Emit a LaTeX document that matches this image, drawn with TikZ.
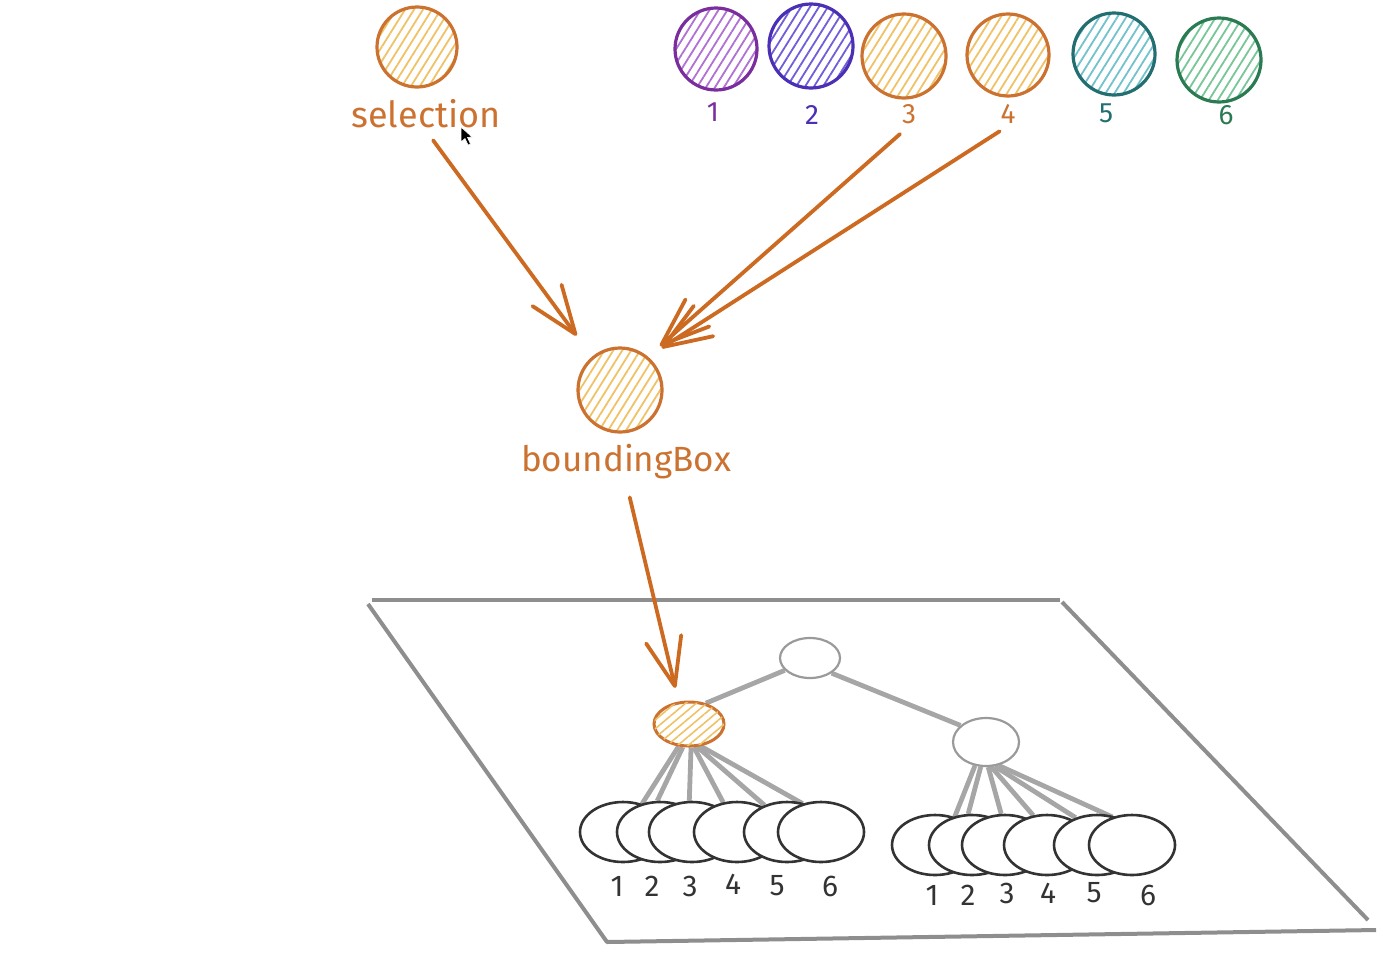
\documentclass[tikz,border=0pt]{standalone}
\usepackage{fontspec}
\setmainfont{Fira Sans}
\usetikzlibrary{shapes.geometric,patterns.meta,arrows.meta,backgrounds}
\definecolor{orS}{HTML}{CC7230}
\definecolor{orH}{HTML}{F0C266}
\definecolor{puS}{HTML}{7A2E9E}
\definecolor{puH}{HTML}{B070D4}
\definecolor{blS}{HTML}{4B2FB5}
\definecolor{blH}{HTML}{6E5ED8}
\definecolor{teS}{HTML}{226E70}
\definecolor{teH}{HTML}{72C2CC}
\definecolor{grS}{HTML}{2A7A52}
\definecolor{grH}{HTML}{78C698}
\definecolor{arrc}{HTML}{CD6A22}
\definecolor{leafc}{HTML}{333333}
\definecolor{inrc}{HTML}{9A9A9A}
\definecolor{edgec}{HTML}{A6A6A6}
\definecolor{framec}{HTML}{8E8E8E}
\tikzset{
  hc/.style n args={3}{circle, draw=#1, line width=1.6pt, minimum size=#3, inner sep=0pt,
    pattern={Lines[angle=58,distance=3.8pt,line width=0.9pt]}, pattern color=#2},
  numlab/.style={font=\fontsize{14}{16}\selectfont, text=#1, inner sep=1pt},
  biglab/.style={font=\fontsize{18}{21}\selectfont, text=orS, inner sep=1pt},
  leaflab/.style={font=\fontsize{15}{17}\selectfont, text=leafc, inner sep=1pt},
  leaf/.style={ellipse, draw=leafc, line width=1.3pt, fill=white, minimum width=43pt, minimum height=30pt, inner sep=0pt},
  inr/.style={ellipse, draw=inrc, line width=1.1pt, fill=white, inner sep=0pt},
  tedge/.style={draw=edgec, line width=2.4pt},
  frame/.style={draw=framec, line width=2pt, line join=round},
  arr/.style={draw=arrc, line width=1.9pt, line cap=round, -{Straight Barb[length=24pt,width=18pt,round]}},
}
\begin{document}
\begin{tikzpicture}[x=0.5pt,y=-0.5pt]
\useasboundingbox (0,0) rectangle (1400,959);
% top circles
\node[hc={orS}{orH}{40pt}] (sel) at (417,47) {};
\node[biglab] (sellab) at (426,114) {selection};
\node[hc={puS}{puH}{41pt}] (c1) at (716,49) {};
\node[hc={blS}{blH}{42pt}] (c2) at (811,46) {};
\node[hc={orS}{orH}{42pt}] (c3) at (904,56) {};
\node[hc={orS}{orH}{41pt}] (c4) at (1008,55) {};
\node[hc={teS}{teH}{41pt}] (c5) at (1114,54) {};
\node[hc={grS}{grH}{42pt}] (c6) at (1219,60) {};
\node[numlab=puS] (n1) at (713,112) {1};
\node[numlab=blS] (n2) at (812,115) {2};
\node[numlab=orS] (n3) at (909,114) {3};
\node[numlab=orS] (n4) at (1008,114) {4};
\node[numlab=teS] (n5) at (1106,113) {5};
\node[numlab=grS] (n6) at (1226,115) {6};
% bounding box node
\node[hc={orS}{orH}{42pt}] (bb) at (620,390) {};
\node[biglab, font=\fontsize{17.5}{21}\selectfont] (bblab) at (626,462) {boundingBox};
% tree
\node[inr, minimum width=30pt, minimum height=20pt] (root) at (810,658) {};
\node[ellipse, draw=orS, line width=1.5pt, fill=white, inner sep=0pt, minimum width=35pt, minimum height=22pt,
  postaction={pattern={Lines[angle=40,distance=3.4pt,line width=0.8pt]}, pattern color=orH}] (lc) at (689,724) {};
\node[inr, minimum width=33pt, minimum height=24pt] (rc) at (986,742) {};
% leaves
\foreach \i/\x in {1/623,2/660,3/692,4/737,5/787,6/821}{
  \node[leaf] (a\i) at (\x,832) {};
}
\foreach \i/\x in {1/935,2/972,3/1005,4/1047,5/1097,6/1132}{
  \node[leaf] (b\i) at (\x,845) {};
}
\foreach \i/\x/\y in {1/617/886,2/652/886,3/690/886,4/733/884,5/777/886,6/830/886}{
  \node[leaflab] (al\i) at (\x,\y) {\i};
}
\foreach \i/\x/\y in {1/932/895,2/968/895,3/1007/893,4/1048/893,5/1094/893,6/1148/895}{
  \node[leaflab] (bl\i) at (\x,\y) {\i};
}
% cursor
\filldraw[black, draw=white, line width=0.3pt] (461,127) -- (461,142) -- (465,138.5) -- (468,145) -- (470.5,144) -- (467.5,137.5) -- (472,137) -- cycle;
\begin{scope}[on background layer]
  \draw[frame] (372,600) -- (1060,600);
  \draw[frame] (368,604) -- (607,942) -- (1376,930);
  \draw[frame] (1062,602) -- (1368,920);
  \draw[tedge] (root.206) -- (lc.51);
  \draw[tedge] (root.325) -- (rc.147);
  \draw[tedge] (lc.245) -- (a1.56);
  \draw[tedge] (lc.255) -- (a2.95);
  \draw[tedge] (lc.275) -- (a3.95);
  \draw[tedge] (lc.282) -- (a4.115);
  \draw[tedge] (lc.290) -- (a5.130);
  \draw[tedge] (lc.298) -- (a6.123);
  \draw[tedge] (rc.245) -- (b1.55);
  \draw[tedge] (rc.258) -- (b2.97);
  \draw[tedge] (rc.275) -- (b3.97);
  \draw[tedge] (rc.282) -- (b4.115);
  \draw[tedge] (rc.290) -- (b5.128);
  \draw[tedge] (rc.298) -- (b6.125);
\end{scope}
% arrows
\draw[arr, shorten <=6pt, shorten >=13pt] (sellab.south) -- (bb.130);
\draw[arr, shorten <=6pt, shorten >=8pt] (n3.south) -- (bb.50);
\draw[arr, shorten <=5pt, shorten >=8pt] (n4.south) -- (bb.50);
\draw[arr, shorten <=8pt, shorten >=7pt] (bblab.south) -- (lc.115);
\end{tikzpicture}
\end{document}
